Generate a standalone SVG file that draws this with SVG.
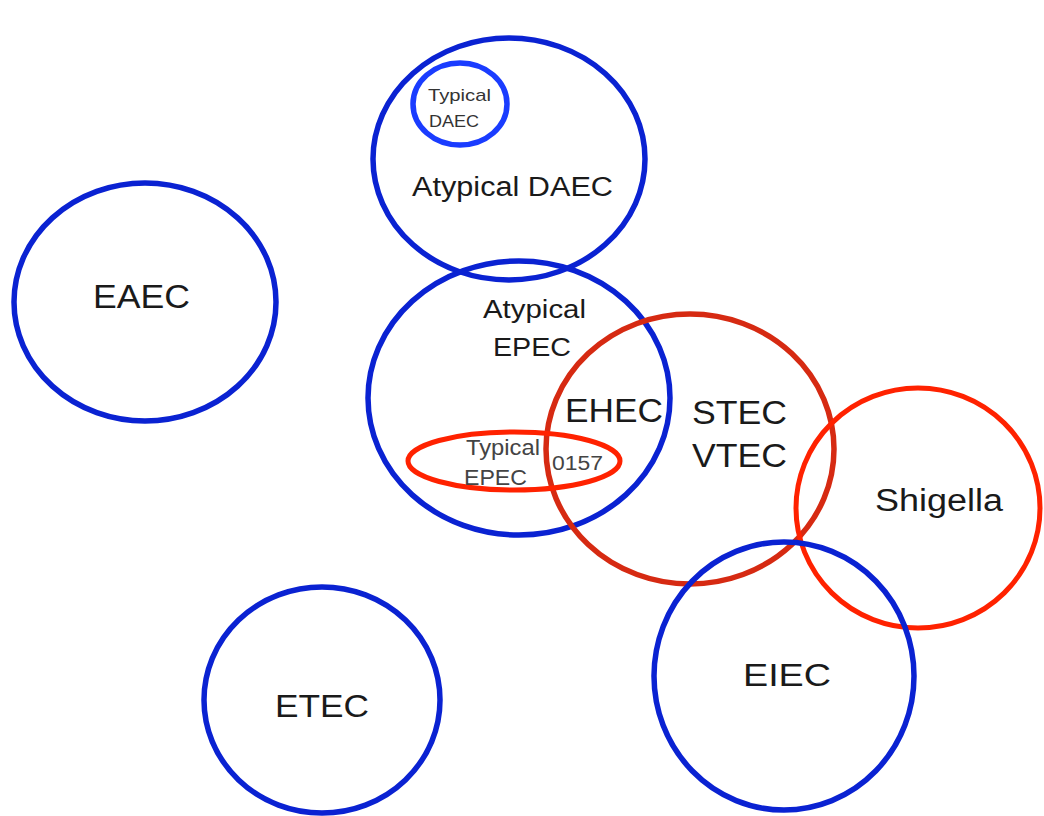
<svg xmlns="http://www.w3.org/2000/svg" width="1044" height="816" viewBox="0 0 1044 816">
<style>
.b{fill:none;stroke:#0a22d2;stroke-width:5.5}
.r{fill:none;stroke:#ff2200;stroke-width:5}
.rd{fill:none;stroke:#d62a12;stroke-width:5.5}
text{font-family:"Liberation Sans",Arial,sans-serif;fill:#1a1a1a}
.l{font-size:34px}
.m{font-size:25px}
.s{font-size:17px;fill:#333}
.t{font-size:22px;fill:#444}
</style>
<rect width="1044" height="816" fill="#fff"/>
<g id="atypical-daec"><ellipse class="b" cx="509" cy="159" rx="136" ry="121"/><text class="m" x="412" y="196" style="font-size:27px" textLength="201" lengthAdjust="spacingAndGlyphs">Atypical DAEC</text></g>
<g id="typical-daec"><ellipse class="b" cx="460" cy="104" rx="47" ry="41" style="stroke:#1a3cff"/><text class="s" x="428" y="101" textLength="63" lengthAdjust="spacingAndGlyphs">Typical</text><text class="s" x="429" y="127" textLength="50" lengthAdjust="spacingAndGlyphs">DAEC</text></g>
<g id="eaec"><ellipse class="b" cx="145" cy="302" rx="131" ry="119"/><text class="l" x="93" y="308" textLength="97" lengthAdjust="spacingAndGlyphs">EAEC</text></g>
<g id="atypical-epec"><ellipse class="b" cx="519" cy="398" rx="151" ry="137"/><text class="m" x="483" y="318" textLength="103" lengthAdjust="spacingAndGlyphs">Atypical</text><text class="m" x="493" y="356" textLength="78" lengthAdjust="spacingAndGlyphs">EPEC</text></g>
<g id="stec"><ellipse class="rd" cx="690" cy="449" rx="144" ry="135"/><text class="l" x="692" y="424" textLength="95" lengthAdjust="spacingAndGlyphs">STEC</text><text class="l" x="692" y="467" textLength="95" lengthAdjust="spacingAndGlyphs">VTEC</text></g>
<g id="ehec"><text class="l" x="565" y="422" textLength="98" lengthAdjust="spacingAndGlyphs">EHEC</text></g>
<g id="typical-epec"><ellipse class="r" cx="514" cy="461" rx="106" ry="29"/><text class="t" x="466" y="455" textLength="74" lengthAdjust="spacingAndGlyphs">Typical</text><text class="t" x="464" y="485" textLength="63" lengthAdjust="spacingAndGlyphs">EPEC</text><text class="t" x="552" y="470" style="font-size:20px" textLength="51" lengthAdjust="spacingAndGlyphs">0157</text></g>
<g id="shigella"><ellipse class="r" cx="918" cy="508" rx="122" ry="120"/><text class="l" x="875" y="511" style="font-size:31px" textLength="128" lengthAdjust="spacingAndGlyphs">Shigella</text></g>
<g id="eiec"><ellipse class="b" cx="784" cy="676" rx="130" ry="134"/><text class="l" x="743" y="686" style="font-size:32px" textLength="88" lengthAdjust="spacingAndGlyphs">EIEC</text></g>
<g id="etec"><ellipse class="b" cx="322" cy="700" rx="118" ry="113"/><text class="l" x="275" y="717" style="font-size:32px" textLength="94" lengthAdjust="spacingAndGlyphs">ETEC</text></g>
<g id="connectors"/>
</svg>
